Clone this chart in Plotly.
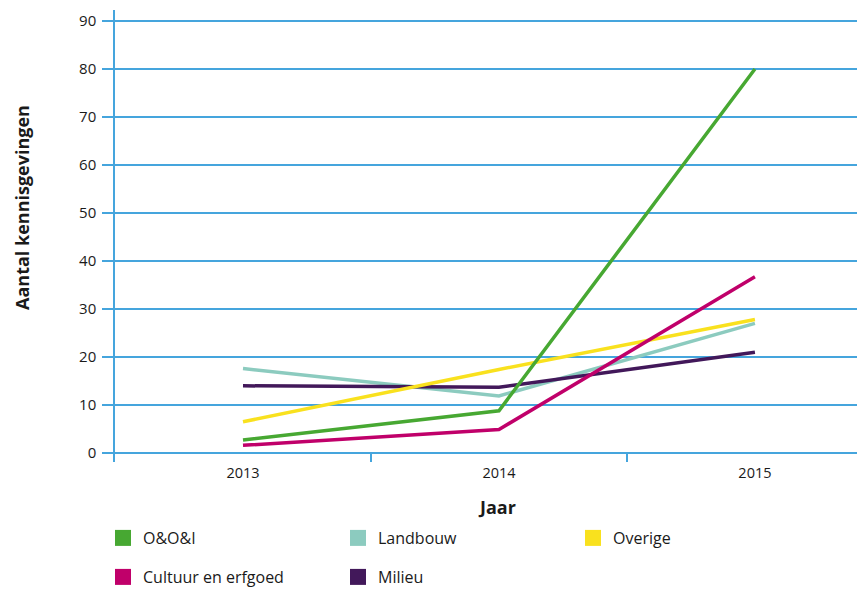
import plotly.graph_objects as go

years = ["2013", "2014", "2015"]
series_names = ["O&O&I", "Landbouw", "Overige", "Cultuur en erfgoed", "Milieu"]
oo_i = [2.7, 8.8, 80]
landbouw = [17.6, 11.9, 27]
overige = [6.5, 17.4, 27.8]
cultuur = [1.6, 4.9, 36.7]
milieu = [14, 13.7, 21]
y_ticks = [0, 10, 20, 30, 40, 50, 60, 70, 80, 90]

colors = ["#47a832", "#8ccbbf", "#f9e11e", "#c0006a", "#42185a"]
values = [oo_i, landbouw, overige, cultuur, milieu]
legend_row = ["legend", "legend", "legend", "legend2", "legend2"]

# page body has an 8px margin, so the figure is 8px smaller than the window
W, H = 857, 581

fig = go.Figure()
draw_order = [1, 4, 2, 0, 3]
for i in draw_order:
    fig.add_trace(go.Scatter(
        x=years, y=values[i], mode="lines", name=series_names[i],
        line=dict(color=colors[i], width=3.5), showlegend=False,
        hoverinfo="x+y+name"))
for i in range(5):
    fig.add_trace(go.Scatter(
        x=[None], y=[None], mode="markers", name=series_names[i],
        marker=dict(symbol="square", size=18, color=colors[i]),
        showlegend=True, legend=legend_row[i]))

axis_blue = "#45a5dd"
txt = "#1a1a1a"
leg_common = dict(
    orientation="h", xref="container", yref="container",
    xanchor="left", yanchor="middle",
    entrywidth=190, entrywidthmode="pixels",
    font=dict(size=16, color=txt), itemsizing="trace",
    bgcolor="rgba(0,0,0,0)", borderwidth=0,
)
fig.update_layout(
    width=W, height=H,
    margin=dict(l=107, r=0, t=2, b=127),
    paper_bgcolor="white", plot_bgcolor="white",
    font=dict(family="Open Sans, sans-serif", color=txt, size=14),
    xaxis=dict(
        type="category", range=[-0.5, 2.43], automargin=False,
        tickson="boundaries", ticks="inside", ticklen=8, tickwidth=1.5,
        tickcolor=axis_blue, showgrid=False, showline=False, zeroline=False,
        tickfont=dict(size=14.5, color=txt),
    ),
    yaxis=dict(
        range=[-1.875, 92.3], tickvals=y_ticks, automargin=False,
        showgrid=True, gridcolor=axis_blue, gridwidth=1.5,
        showline=True, linecolor=axis_blue, linewidth=1.5,
        zeroline=False, ticks="outside", ticklen=11, tickcolor=axis_blue,
        tickwidth=1.5, tickfont=dict(size=15, color=txt),
        ticklabelstandoff=3,
    ),
    legend=dict(x=95 / W, y=1 - 530 / H, **leg_common),
    legend2=dict(x=95 / W, y=1 - 569 / H, **leg_common),
    showlegend=True,
)
fig.add_annotation(text="<b>Jaar</b>", xref="paper", yref="paper",
                   x=0.509, y=-0.0996, xanchor="center", yanchor="middle",
                   showarrow=False, font=dict(size=18, color=txt))
fig.add_annotation(text="<b>Aantal kennisgevingen</b>", xref="paper", yref="paper",
                   x=-0.124, y=0.562, xanchor="center", yanchor="middle",
                   textangle=-90, showarrow=False,
                   font=dict(size=18, color=txt))

fig.write_html("out.html")
